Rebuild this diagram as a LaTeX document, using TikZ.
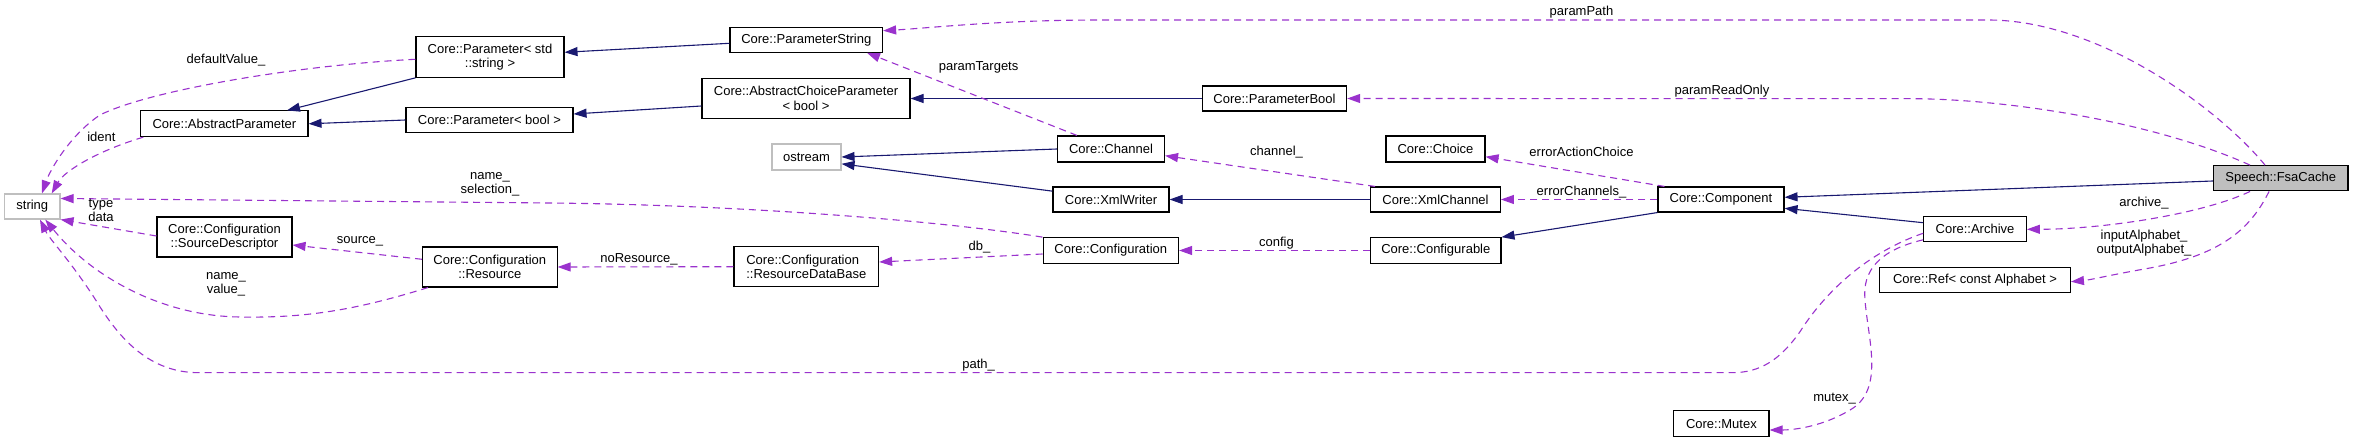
\documentclass[tikz,border=0pt]{standalone}
\usepackage{fontspec}
\setmainfont{Liberation Sans}
\usetikzlibrary{arrows.meta}
\definecolor{navy}{RGB}{25,25,112}
\definecolor{orchid}{RGB}{154,50,205}
\definecolor{lgray}{RGB}{191,191,191}
\newcommand{\fsz}{\fontsize{13}{14.4}\selectfont}
\begin{document}
\begin{tikzpicture}[x=1pt,y=-1pt,
  cls/.style={draw=black, line width=1.1pt, fill=white, inner sep=0pt, align=center, font=\fsz},
  ext/.style={cls, draw=lgray},
  root/.style={cls, fill=lgray},
  inh/.style={draw=navy, line width=1.1pt, -{Triangle[length=13pt,width=9pt]}},
  use/.style={draw=orchid, line width=1.1pt, dash pattern=on 7pt off 5pt, -{Triangle[length=13pt,width=9pt]}},
  lbl/.style={font=\fsz, align=center, inner sep=0pt}]
\useasboundingbox (0,0) rectangle (2353,443);

% nodes
\node[cls, minimum width=152.6pt, minimum height=25pt] (pstr) at (806.3,39.8) {Core::ParameterString};
\node[cls, minimum width=148pt, minimum height=40.6pt] (pstd) at (490,57) {Core::Parameter< std\\::string >};
\node[cls, minimum width=167.2pt, minimum height=25.7pt] (absp) at (224.4,123.8) {Core::AbstractParameter};
\node[cls, minimum width=167pt, minimum height=25.4pt] (pbool) at (489.5,120) {Core::Parameter< bool >};
\node[cls, minimum width=208pt, minimum height=39.6pt] (acp) at (806,98.5) {Core::AbstractChoiceParameter\\< bool >};
\node[cls, minimum width=144.3pt, minimum height=25pt] (pbool2) at (1274.5,98.5) {Core::ParameterBool};
\node[ext, minimum width=69pt, minimum height=26pt] (ostream) at (806.5,157) {ostream};
\node[cls, minimum width=107pt, minimum height=26pt] (channel) at (1111,149) {Core::Channel};
\node[cls, minimum width=116pt, minimum height=25pt] (xmlw) at (1111,199.5) {Core::XmlWriter};
\node[cls, minimum width=99pt, minimum height=26pt] (choice) at (1435.5,149) {Core::Choice};
\node[cls, minimum width=129.7pt, minimum height=25pt] (xmlc) at (1435.5,199.5) {Core::XmlChannel};
\node[cls, minimum width=126pt, minimum height=25pt] (comp) at (1721,199.5) {Core::Component};
\node[root, minimum width=134.6pt, minimum height=25.3pt] (fsa) at (2280.7,178.3) {Speech::FsaCache};
\node[ext, minimum width=55.4pt, minimum height=25pt] (string) at (32.3,206.5) {string};
\node[cls, minimum width=135pt, minimum height=40pt] (sd) at (224.5,237) {Core::Configuration\\::SourceDescriptor};
\node[cls, minimum width=134.5pt, minimum height=40pt] (res) at (489.8,267) {Core::Configuration\\::Resource};
\node[cls, align=left, minimum width=144.6pt, minimum height=40pt] (rdb) at (806.3,266.7) {Core::Configuration\\::ResourceDataBase};
\node[cls, minimum width=135.5pt, minimum height=25.6pt] (config) at (1110.8,250.5) {Core::Configuration};
\node[cls, minimum width=130.3pt, minimum height=25.6pt] (cfgable) at (1435.8,250.5) {Core::Configurable};
\node[cls, minimum width=102.7pt, minimum height=25.3pt] (archive) at (1975,229.3) {Core::Archive};
\node[cls, minimum width=190.8pt, minimum height=25.4pt] (ref) at (1975,280) {Core::Ref< const Alphabet >};
\node[cls, minimum width=95.2pt, minimum height=26pt] (mutex) at (1721.4,423.7) {Core::Mutex};

% inheritance
\draw[inh] (pstd.south west) -- ([xshift=62.6pt]absp.north);
\draw[inh] (pbool.west) -- (absp.east);
\draw[inh] ([yshift=-3.5pt]pstr.west) -- ([yshift=4.7pt]pstd.east);
\draw[inh] ([yshift=-7.5pt]acp.west) -- ([yshift=6pt]pbool.east);
\draw[inh] (pbool2.west) -- (acp.east);
\draw[inh] (channel.west) -- (ostream.east);
\draw[inh] ([yshift=-4.7pt]xmlw.north west) -- ([yshift=6.7pt]ostream.south east);
\draw[inh] (xmlc.west) -- (xmlw.east);
\draw[inh] (comp.south west) -- (cfgable.north east);
\draw[inh] ([yshift=-2.7pt]fsa.west) -- ([yshift=2.2pt]comp.east);
\draw[inh] ([yshift=6.6pt]archive.west) -- ([yshift=-8.8pt]comp.east);

% usage
\draw[use] ([xshift=-15.7pt]fsa.north) .. controls (2220,110) and (2100,20) .. (1988,20) -- (1100,20) .. controls (1000,20) and (930,28) .. ([yshift=9.1pt]pstr.east);
\draw[use] ([xshift=-30.7pt]fsa.north) .. controls (2150,120) and (2000,98.7) .. (1911,98.7) -- (pbool2.east);
\draw[use] ([xshift=-34pt]channel.north) -- ([xshift=60.7pt]pstr.south);
\draw[use] ([xshift=5pt]xmlc.north west) -- ([yshift=-6.7pt]channel.east);
\draw[use] ([xshift=7pt]comp.north west) -- ([yshift=-7.7pt]choice.east);
\draw[use] (comp.west) -- (xmlc.east);
\draw[use] (cfgable.west) -- (config.east);
\draw[use] ([yshift=-3.5pt]config.west) -- ([yshift=4.7pt]rdb.east);
\draw[use] (rdb.west) -- (res.east);
\draw[use] ([yshift=7.7pt]res.west) -- ([yshift=-8pt]sd.east);
\draw[use] ([xshift=6pt]res.south west) .. controls (350,312) and (300,318) .. (240,317) .. controls (160,316) and (90,275) .. ([xshift=13pt]string.south);
\draw[use] ([yshift=1pt]sd.west) -- (string.south east);
\draw[use] (config.north west) .. controls (950,222) and (750,205) .. (550,203) -- ([yshift=8pt]string.east);
\draw[use] ([xshift=3pt]absp.south west) .. controls (100,150) and (65,170) .. ([xshift=19.4pt]string.north);
\draw[use] ([yshift=-2.3pt]pstd.west) .. controls (300,65) and (150,90) .. (100,115) .. controls (70,135) and (50,170) .. ([xshift=9.7pt]string.north);
\draw[use] ([yshift=-4pt]archive.west) .. controls (1860,255) and (1820,300) .. (1800,331.7) .. controls (1780,360) and (1760,372.7) .. (1732,372.7) -- (199,372.7) .. controls (150,372.7) and (120,340) .. (95.7,300) .. controls (70,260) and (50,240) .. ([xshift=7.7pt]string.south);
\draw[use] ([yshift=2.7pt]archive.south west) .. controls (1880,250) and (1862,270) .. (1865,300) .. controls (1868,340) and (1885,390) .. (1850,410) .. controls (1820,428) and (1790,430) .. ([yshift=-6.3pt]mutex.east);
\draw[use] ([xshift=-30.7pt]fsa.south) .. controls (2200,215) and (2100,229.3) .. (archive.east);
\draw[use] ([xshift=-11.7pt]fsa.south) .. controls (2250,230) and (2220,255) .. (2150,268) .. controls (2110,275) and (2090,280) .. ([yshift=-1.7pt]ref.east);

% labels
\node[lbl] (l1) at (1581.5,11.7) {paramPath};
\node[lbl] (l2) at (1722,90.7) {paramReadOnly};
\node[lbl] (l3) at (978.6,67.7) {paramTargets};
\node[lbl] (l4) at (1276.5,152.3) {channel\_};
\node[lbl] (l5) at (1581.5,152.3) {errorActionChoice};
\node[lbl] (l6) at (1581.5,192.3) {errorChannels\_};
\node[lbl] (l7) at (1276.5,242.7) {config};
\node[lbl] (l8) at (979.5,246.7) {db\_};
\node[lbl] (l9) at (639,259) {noResource\_};
\node[lbl] (l10) at (360,241) {source\_};
\node[lbl] (l11) at (226,284.5) {name\_\\value\_};
\node[lbl] (l12) at (101,210.5) {type\\data};
\node[lbl] (l13) at (490,184.5) {name\_\\selection\_};
\node[lbl] (l14) at (101.4,136.7) {ident};
\node[lbl] (l15) at (226,60) {defaultValue\_};
\node[lbl] (l16) at (978.6,364.7) {path\_};
\node[lbl] (l17) at (1834.6,399) {mutex\_};
\node[lbl] (l18) at (2144,203.3) {archive\_};
\node[lbl] (l19) at (2144,243) {inputAlphabet\_\\outputAlphabet\_};
\end{tikzpicture}
\end{document}
